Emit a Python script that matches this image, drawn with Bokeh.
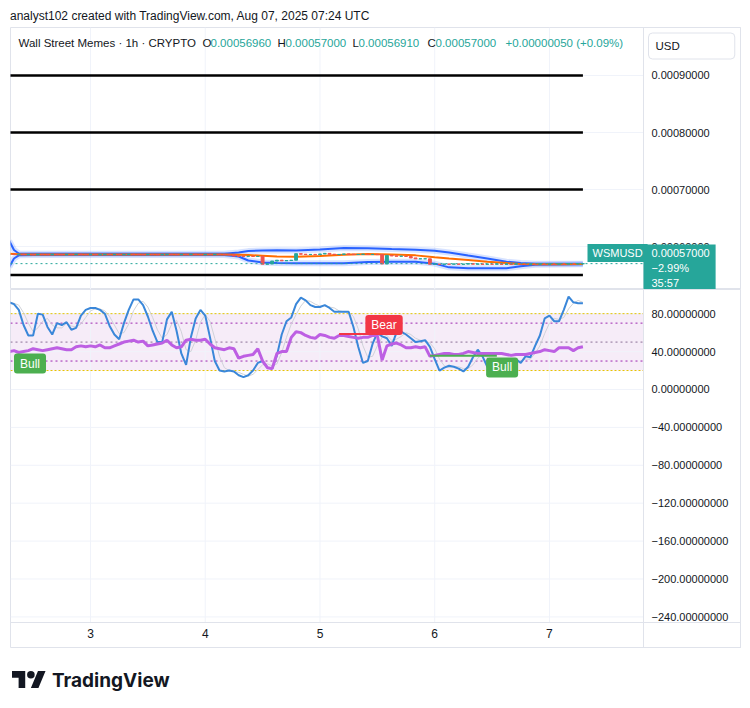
from bokeh.plotting import figure
from bokeh.layouts import column
from bokeh.models import (ColumnDataSource, Range1d, FixedTicker, CustomJSTickFormatter,
                          Label, Span, BoxAnnotation, Div)
from bokeh.embed import file_html
from bokeh.resources import INLINE

FONT = "Liberation Sans"
TXT = "#131722"
GRID = "#f0f3fa"
BORDER = "#e0e3eb"
UP = "#26a69a"
DOWN = "#ef5350"

# ---------------- data ----------------
hours = list(range(121))  # hourly bars, Aug 2 07:00 -> Aug 7 07:00
first_open = 0.00058600
close = [
    0.00058620, 0.00058600, 0.00058640, 0.00058580, 0.00058600, 0.00058560, 0.00058620, 0.00058600, 0.00058580, 0.00058640,
    0.00058600, 0.00058580, 0.00058620, 0.00058600, 0.00058650, 0.00058600, 0.00058580, 0.00058620, 0.00058560, 0.00058600,
    0.00058640, 0.00058600, 0.00058620, 0.00058580, 0.00058600, 0.00058650, 0.00058620, 0.00058600, 0.00058580, 0.00058620,
    0.00058600, 0.00058560, 0.00058600, 0.00058640, 0.00058600, 0.00058580, 0.00058620, 0.00058600, 0.00058650, 0.00058600,
    0.00058580, 0.00058620, 0.00058600, 0.00058640, 0.00058600, 0.00058580, 0.00058560, 0.00058320, 0.00058300, 0.00058280,
    0.00058300, 0.00058260, 0.00058280, 0.00056900, 0.00056950, 0.00057450, 0.00057600, 0.00057500, 0.00057550, 0.00057600,
    0.00058750, 0.00058650, 0.00058600, 0.00058620, 0.00058580, 0.00058700, 0.00058800, 0.00058650, 0.00058600, 0.00058620,
    0.00058700, 0.00058650, 0.00058600, 0.00058620, 0.00058650, 0.00058600, 0.00058620, 0.00058580, 0.00056950, 0.00058450,
    0.00058350, 0.00058300, 0.00058300, 0.00058250, 0.00058000, 0.00057850, 0.00057850, 0.00057850, 0.00056900, 0.00056900,
    0.00056880, 0.00056920, 0.00056900, 0.00056950, 0.00056880, 0.00056920, 0.00057000, 0.00056900, 0.00056950, 0.00056880,
    0.00056920, 0.00056900, 0.00056950, 0.00056880, 0.00056920, 0.00056900, 0.00056950, 0.00056900, 0.00056880, 0.00056920,
    0.00056900, 0.00056950, 0.00056900, 0.00056920, 0.00056880, 0.00056950, 0.00056920, 0.00056960, 0.00056940, 0.00056960,
    0.00057000,
]

band_hours = [0, 1, 2, 5, 10, 20, 30, 40, 45, 48, 50, 53, 56, 60, 65, 70, 75, 80, 85, 89, 92, 96, 100, 104, 107, 110, 115, 120]
bb_upper = [0.000610, 0.000594, 0.0005878, 0.0005872, 0.0005872, 0.0005872, 0.0005872, 0.0005872, 0.0005872,
            0.0005895, 0.000592, 0.000593, 0.0005935, 0.000593, 0.000595, 0.0005975, 0.000597, 0.0005955,
            0.0005945, 0.0005925, 0.0005895, 0.0005842, 0.000579, 0.0005735, 0.000571, 0.00057, 0.00057, 0.0005698]
bb_basis = [0.0005875, 0.000587, 0.0005865, 0.0005862, 0.0005862, 0.0005862, 0.0005862, 0.0005862, 0.0005862,
            0.0005856, 0.000585, 0.000584, 0.0005825, 0.000582, 0.0005835, 0.0005855, 0.000587, 0.000586,
            0.0005845, 0.000581, 0.000579, 0.0005765, 0.0005735, 0.000571, 0.0005695, 0.000569, 0.000569, 0.0005692]
bb_lower = [0.000564, 0.000579, 0.0005845, 0.0005852, 0.0005852, 0.0005852, 0.0005852, 0.0005852, 0.0005852,
            0.0005825, 0.0005755, 0.000572, 0.000571, 0.0005705, 0.0005705, 0.0005705, 0.000573, 0.0005735,
            0.0005735, 0.00057, 0.0005635, 0.000562, 0.000562, 0.000562, 0.0005655, 0.000568, 0.0005685, 0.0005688]

levels = [0.0009, 0.0008, 0.0007, 0.00055]
price_ticks = [0.0006, 0.0007, 0.0008, 0.0009]

osc_k = [
    92, 90, 84, 68, 57, 57, 80, 79, 66, 58,
    70, 68, 71, 63, 65, 78, 84, 86, 86, 84,
    80, 67, 58, 53, 70, 84, 95, 95, 89, 77,
    62, 50, 50, 74, 82, 62, 38, 26, 55, 75,
    84, 78, 55, 30, 20, 19, 20, 19, 15, 13,
    15, 20, 28, 30, 23, 22, 36, 58, 72, 76,
    90, 97, 94, 89, 87, 87, 89, 86, 82, 82,
    82, 82, 66, 45, 28, 30, 48, 60, 56, 54,
    46, 60, 61, 58, 54, 50, 51, 52, 45, 32,
    20, 23, 25, 24, 22, 19, 24, 34, 42, 35,
    24, 19, 19, 19, 23, 30, 32, 28, 35, 34,
    46, 57, 75, 78, 72, 72, 84, 98, 92, 91,
    91,
]
osc_d = [
    92, 91, 89, 81, 70, 61, 65, 72, 75, 68,
    65, 65, 70, 67, 66, 69, 76, 83, 85, 85,
    83, 77, 68, 59, 60, 69, 83, 91, 93, 87,
    76, 63, 54, 58, 69, 73, 61, 42, 40, 52,
    71, 79, 72, 54, 35, 23, 20, 19, 18, 16,
    14, 16, 21, 26, 27, 25, 27, 39, 55, 69,
    79, 88, 94, 93, 90, 88, 88, 87, 86, 83,
    82, 82, 77, 64, 46, 34, 35, 46, 55, 57,
    52, 53, 56, 60, 58, 54, 52, 51, 49, 43,
    32, 25, 23, 24, 24, 22, 22, 26, 33, 37,
    34, 26, 21, 19, 20, 24, 28, 30, 32, 32,
    38, 46, 59, 70, 75, 74, 76, 85, 91, 94,
    92,
]
rsi = [
    40, 41, 39, 40, 41, 43, 42, 41, 42, 43,
    44, 43, 42, 42, 45, 46, 45, 46, 45, 47,
    44, 44, 46, 48, 50, 51, 52, 50, 51, 46,
    47, 48, 49, 52, 47, 44, 45, 52, 53, 52,
    52, 53, 48, 44, 43, 42, 44, 43, 33, 35,
    36, 37, 43, 30, 23, 22, 38, 40, 40, 55,
    61, 60, 57, 55, 54, 58, 57, 55, 54, 57,
    57, 56, 55, 54, 55, 55, 57, 57, 31, 46,
    48, 49, 47, 44, 44, 45, 44, 45, 35, 36,
    37, 38, 38, 37, 37, 38, 40, 39, 38, 38,
    38, 38, 38, 38, 37, 36, 37, 37, 37, 38,
    39, 40, 42, 41, 40, 44, 44, 44, 41, 44,
    45,
]
rsi_ticks = [80, 40, 0, -40, -80, -120, -160, -200, -240]
band_levels = [20, 80]
guide_levels = [30, 70]
mid_level = 50

day_ticks = [17, 41, 65, 89, 113]
day_labels = ["3", "4", "5", "6", "7"]

signal_hours = [4.35, 78.4, 103.1]
signal_values = [27.4, 68.0, 23.2]
signal_texts = ["Bull", "Bear", "Bull"]
signal_colors = ["#4caf50", "#f23645", "#4caf50"]

div_x0 = [69, 88]
div_x1 = [78, 102]
div_y0 = [58.5, 35.5]
div_y1 = [58.5, 35.5]
div_colors = ["#f23645", "#4caf50"]

# ---------------- layout constants ----------------
X0, X1 = 0.27, 152.96      # frame spans page x 10..740
SCALE_EDGE = 132.67        # page x 643: border between plot area and price scale


def style_axis(ax, size="11px"):
    ax.major_tick_line_color = None
    ax.minor_tick_line_color = None
    ax.major_tick_out = 0
    ax.major_tick_in = 0
    ax.axis_line_color = BORDER
    ax.major_label_text_font = FONT
    ax.major_label_text_font_size = size
    ax.major_label_text_color = TXT


# ---------------- price pane ----------------
opens = [first_open] + close[:-1]
src = ColumnDataSource(dict(
    h=hours, o=opens, c=close,
    top=[max(a, b) for a, b in zip(opens, close)],
    bot=[min(a, b) for a, b in zip(opens, close)],
    col=[UP if c >= o else DOWN for o, c in zip(opens, close)],
))
bsrc = ColumnDataSource(dict(h=band_hours, u=bb_upper, m=bb_basis, l=bb_lower))

XR = Range1d(X0, X1)
p = figure(width=750, height=262, x_range=XR, y_range=Range1d(0.00052464, 0.00098419),
           x_axis_location=None, y_axis_location="right", toolbar_location=None,
           output_backend="svg", min_border_left=10, min_border_right=10,
           min_border_top=0, min_border_bottom=0, outline_line_color=BORDER)
p.yaxis.ticker = FixedTicker(ticks=price_ticks)
p.yaxis.formatter = CustomJSTickFormatter(code="return tick.toFixed(8);")
style_axis(p.yaxis[0])
p.yaxis.major_label_standoff = -89
p.yaxis.major_label_text_align = "left"
p.xgrid.visible = False
p.ygrid.visible = False

p.segment(x0=X0, x1=SCALE_EDGE, y0=price_ticks, y1=price_ticks, line_color=GRID, line_width=1)
p.segment(x0=day_ticks, x1=day_ticks, y0=0.00052464, y1=0.00098419, line_color=GRID, line_width=1)
p.add_layout(Span(location=SCALE_EDGE, dimension="height", line_color=BORDER, line_width=1))

p.segment(x0=hours[0], x1=hours[-1], y0=levels, y1=levels, line_color="black", line_width=2.5)

for key in ["u", "l"]:
    p.line("h", key, source=bsrc, line_color="#2962ff", line_width=6, line_alpha=0.18)
for key in ["u", "l"]:
    p.line("h", key, source=bsrc, line_color="#2962ff", line_width=2)
p.line("h", "m", source=bsrc, line_color="#ff6d00", line_width=2)

p.vbar(x="h", width=0.6, top="top", bottom="bot", fill_color="col", line_color="col",
       line_width=1, source=src)

p.segment(x0=X0, x1=SCALE_EDGE, y0=close[-1], y1=close[-1], line_color=UP, line_width=1,
          line_dash="2 3")

# padding below is (left, right, top, bottom)
hdr_y = 247
hdr = [("Wall Street Memes \u00b7 1h \u00b7 CRYPTO", 8, TXT),
       ("O", 192, TXT), ("0.00056960", 200, UP),
       ("H", 267, TXT), ("0.00057000", 275, UP),
       ("L", 342, TXT), ("0.00056910", 348, UP),
       ("C", 417, TXT), ("0.00057000", 425, UP),
       ("+0.00000050 (+0.09%)", 495, UP)]
for t, x, c in hdr:
    p.add_layout(Label(x=x, y=hdr_y, x_units="screen", y_units="screen", text=t,
                       text_font=FONT, text_font_size="11.5px", text_color=c,
                       text_baseline="middle", text_align="left"))
p.add_layout(Label(x=638, y=243.5, x_units="screen", y_units="screen", text="USD",
                   text_font=FONT, text_font_size="11.5px", text_color=TXT,
                   text_baseline="middle", background_fill_color="white",
                   border_line_color=BORDER, border_radius=4, padding=(7, 55, 7, 7)))
p.add_layout(Label(x=577, y=36.5, x_units="screen", y_units="screen", text="WSMUSD",
                   text_font=FONT, text_font_size="11px", text_color="white",
                   text_baseline="middle", background_fill_color=UP,
                   padding=(5, 5, 3, 3)))
p.add_layout(Label(x=633, y=45, x_units="screen", y_units="screen",
                   text="0.00057000\n\u22122.99%\n35:57",
                   text_font=FONT, text_font_size="11px", text_color="white",
                   text_baseline="top", text_line_height=1.25, background_fill_color=UP,
                   padding=(8, 6, 2, 4)))

# ---------------- oscillator pane (time scale drawn inside its frame) ----------------
osrc = ColumnDataSource(dict(h=hours, k=osc_k, d=osc_d, r=rsi))
RY0, RY1 = -273.35, 105.5   # frame spans page y 289..648
TIME_EDGE = -245.9          # page y 622: border between pane and time scale
q = figure(width=750, height=359, x_range=XR, y_range=Range1d(RY0, RY1),
           y_axis_location="right", toolbar_location=None, output_backend="svg",
           min_border_left=10, min_border_right=10, min_border_top=0, min_border_bottom=0,
           outline_line_color=BORDER)
q.yaxis.ticker = FixedTicker(ticks=rsi_ticks)
q.yaxis.formatter = CustomJSTickFormatter(
    code="return (tick < 0 ? '\\u2212' : '') + Math.abs(tick).toFixed(8);")
q.xaxis.ticker = FixedTicker(ticks=day_ticks)
q.xaxis.major_label_overrides = {t: l for t, l in zip(day_ticks, day_labels)}
style_axis(q.yaxis[0])
style_axis(q.xaxis[0], "12px")
q.yaxis.major_label_standoff = -89
q.yaxis.major_label_text_align = "left"
q.xaxis.major_label_standoff = -20
q.xgrid.visible = False
q.ygrid.visible = False

q.segment(x0=X0, x1=SCALE_EDGE, y0=rsi_ticks, y1=rsi_ticks, line_color=GRID, line_width=1)
q.segment(x0=day_ticks, x1=day_ticks, y0=TIME_EDGE, y1=RY1, line_color=GRID, line_width=1)
q.add_layout(Span(location=SCALE_EDGE, dimension="height", line_color=BORDER, line_width=1))
q.add_layout(Span(location=TIME_EDGE, dimension="width", line_color=BORDER, line_width=1))

q.add_layout(BoxAnnotation(left=X0, right=SCALE_EDGE, bottom=band_levels[0], top=band_levels[1],
                           fill_color="#9c27b0", fill_alpha=0.09, line_alpha=0, level="underlay"))
q.segment(x0=X0, x1=SCALE_EDGE, y0=band_levels, y1=band_levels, line_color="#e6c300",
          line_width=1, line_dash="2 2")
q.segment(x0=X0, x1=SCALE_EDGE, y0=guide_levels, y1=guide_levels, line_color="#9c27b0",
          line_width=1, line_dash="2 3")
q.segment(x0=X0, x1=SCALE_EDGE, y0=mid_level, y1=mid_level, line_color="#8a6f96",
          line_width=1, line_dash="2 3")

q.line("h", "d", source=osrc, line_color="#cfd2d8", line_width=1)
q.line("h", "k", source=osrc, line_color="#3a87d9", line_width=2)
q.line("h", "r", source=osrc, line_color="#bd5fe3", line_width=3)
q.segment(x0=div_x0, x1=div_x1, y0=div_y0, y1=div_y1, line_color=div_colors, line_width=2)

for hx, v, t, c in zip(signal_hours, signal_values, signal_texts, signal_colors):
    q.add_layout(Label(x=hx, y=v, text=t, text_font=FONT, text_font_size="12px",
                       text_color="white", text_align="center", text_baseline="middle",
                       background_fill_color=c, border_radius=3, padding=(6, 6, 3, 3)))

# ---------------- page ----------------
header = Div(text=("<div style='font-family:Liberation Sans;font-size:12px;color:#131722;"
                   "padding:8px 0 0 10px;'>analyst102 created with TradingView.com, "
                   "Aug 07, 2025 07:24 UTC</div>"),
             width=750, height=27, margin=(0, 0, 0, 0))
logo = Div(text=("<div style='display:flex;align-items:center;padding:19px 0 0 12px;'>"
                 "<svg width='34' height='27' viewBox='0 0 36 28'>"
                 "<path d='M14 22H7V11H0V4h14v18zM28 22h-8l7.5-18h8L28 22z' fill='#131722'/>"
                 "<circle cx='20' cy='8' r='4' fill='#131722'/></svg>"
                 "<span style='font-family:Inter;font-weight:700;font-size:19px;color:#131722;"
                 "margin-left:6px;'>TradingView</span></div>"),
           width=750, height=60, margin=(0, 0, 0, 0))

layout = column(header, p, q, logo, spacing=0)
open("out.html", "w", encoding="utf-8").write(file_html(layout, INLINE))
